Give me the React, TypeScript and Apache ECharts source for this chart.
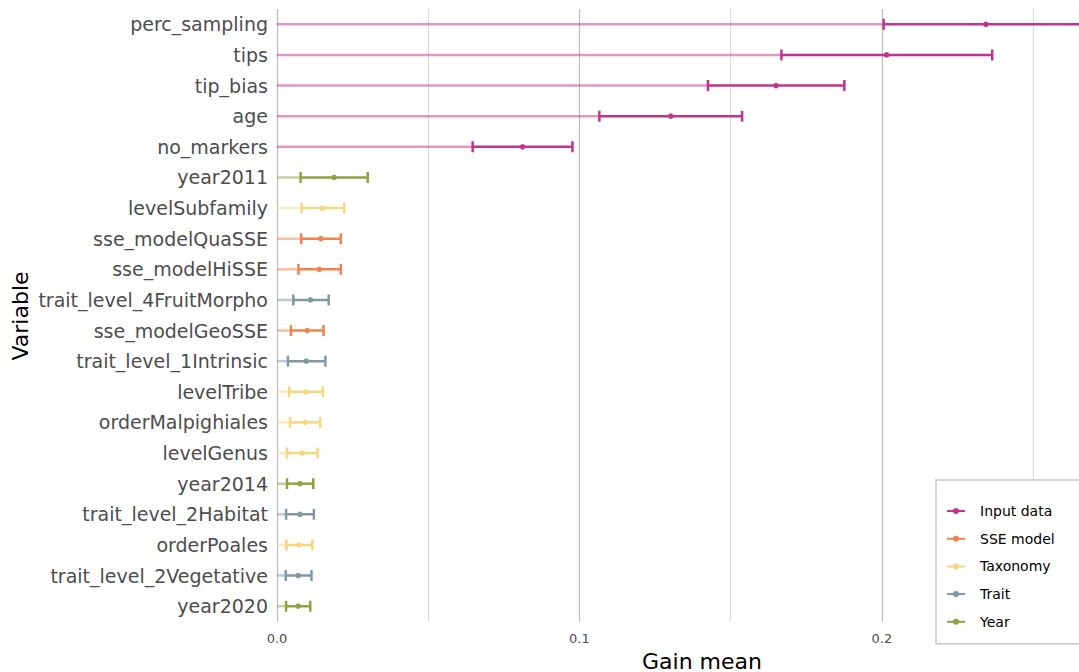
import React, { useEffect, useRef } from 'react';
import * as echarts from 'echarts';

const categories = [
  'perc_sampling', 'tips', 'tip_bias', 'age', 'no_markers', 'year2011', 'levelSubfamily',
  'sse_modelQuaSSE', 'sse_modelHiSSE', 'trait_level_4FruitMorpho', 'sse_modelGeoSSE',
  'trait_level_1Intrinsic', 'levelTribe', 'orderMalpighiales', 'levelGenus', 'year2014',
  'trait_level_2Habitat', 'orderPoales', 'trait_level_2Vegetative', 'year2020',
];
const groupOf = [
  'Input data', 'Input data', 'Input data', 'Input data', 'Input data', 'Year', 'Taxonomy',
  'SSE model', 'SSE model', 'Trait', 'SSE model', 'Trait', 'Taxonomy', 'Taxonomy', 'Taxonomy',
  'Year', 'Trait', 'Taxonomy', 'Trait', 'Year',
];
const gainMean = [
  0.2344, 0.2016, 0.165, 0.1302, 0.0812, 0.0189, 0.015, 0.0145, 0.014, 0.0111, 0.01,
  0.0097, 0.0095, 0.0093, 0.0083, 0.0076, 0.0076, 0.0073, 0.007, 0.007,
];
const gainLow = [
  0.2006, 0.1668, 0.1425, 0.1066, 0.0647, 0.0078, 0.0081, 0.008, 0.0071, 0.0054, 0.0046,
  0.0036, 0.004, 0.0043, 0.0033, 0.0033, 0.003, 0.0031, 0.0029, 0.003,
];
const gainHigh = [
  0.27, 0.2365, 0.1876, 0.1538, 0.0977, 0.03, 0.0222, 0.0211, 0.0211, 0.0171, 0.0154,
  0.016, 0.0152, 0.0143, 0.0134, 0.012, 0.0122, 0.0117, 0.0114, 0.011,
];
const groups = ['Input data', 'SSE model', 'Taxonomy', 'Trait', 'Year'];
const groupColors = ['#C2338F', '#EE8250', '#F4D77E', '#8198A4', '#8FA340'];
const xTickLabels = ['0.0', '0.1', '0.2'];

const FONT = 'DejaVu Sans';
const LEGEND_ICON =
  'path://M0,2.5H18V4.5H0Z M6,3.5A3,3 0 1 1 12,3.5A3,3 0 1 1 6,3.5Z';

export default function App() {
  const ref = useRef<HTMLDivElement>(null);

  useEffect(() => {
    if (!ref.current) return;
    const chart = echarts.init(ref.current, null, { renderer: 'svg' });

    const series = groups.map((g, gi) => {
      const color = groupColors[gi];
      const data: number[][] = [];
      categories.forEach((_, i) => {
        if (groupOf[i] === g) data.push([gainLow[i], gainMean[i], gainHigh[i], i]);
      });
      return {
        type: 'custom',
        name: g,
        clip: true,
        itemStyle: { color },
        encode: { x: [0, 1, 2], y: 3 },
        data,
        renderItem: (params: any, api: any) => {
          const yi = api.value(3);
          const z = api.coord([0, yi]);
          const lo = api.coord([api.value(0), yi]);
          const mid = api.coord([api.value(1), yi]);
          const hi = api.coord([api.value(2), yi]);
          const cap = 5.5;
          const lw = 2.5;
          return {
            type: 'group',
            children: [
              {
                type: 'line',
                shape: { x1: z[0], y1: z[1], x2: lo[0], y2: lo[1] },
                style: { stroke: color, lineWidth: lw, opacity: 0.5 },
              },
              {
                type: 'line',
                shape: { x1: lo[0], y1: lo[1], x2: hi[0], y2: hi[1] },
                style: { stroke: color, lineWidth: lw },
              },
              {
                type: 'line',
                shape: { x1: lo[0], y1: lo[1] - cap, x2: lo[0], y2: lo[1] + cap },
                style: { stroke: color, lineWidth: lw },
              },
              {
                type: 'line',
                shape: { x1: hi[0], y1: hi[1] - cap, x2: hi[0], y2: hi[1] + cap },
                style: { stroke: color, lineWidth: lw },
              },
              {
                type: 'circle',
                shape: { cx: mid[0], cy: mid[1], r: 2.8 },
                style: { fill: color },
              },
            ],
          };
        },
      };
    });

    chart.setOption({
      animation: false,
      backgroundColor: '#ffffff',
      textStyle: { fontFamily: FONT },
      grid: { left: 277, right: 0, top: 9, bottom: 50.5, containLabel: false },
      xAxis: {
        type: 'value',
        min: 0,
        max: 0.2652,
        interval: 0.05,
        axisLine: { show: false },
        axisTick: { show: false },
        axisLabel: {
          color: '#4D4D4D',
          fontSize: 13,
          fontFamily: FONT,
          margin: 10,
          showMaxLabel: false,
          formatter: (v: number) => {
            const k = Math.round(v * 10);
            if (Math.abs(v * 10 - k) < 1e-6 && k < xTickLabels.length) return xTickLabels[k];
            return '';
          },
        },
        splitLine: {
          show: true,
          lineStyle: { color: ['#BDBDBD', '#DCDCDC'], width: 1.2 },
        },
      },
      yAxis: {
        type: 'category',
        data: categories,
        inverse: true,
        axisLine: { show: false },
        axisTick: { show: false },
        splitLine: { show: false },
        axisLabel: {
          color: '#4D4D4D',
          fontSize: 19,
          fontFamily: FONT,
          margin: 9,
        },
      },
      legend: {
        orient: 'vertical',
        left: 936,
        top: 480,
        padding: [23, 25, 14, 11],
        borderColor: '#C8C8C8',
        borderWidth: 1.5,
        backgroundColor: '#ffffff',
        itemWidth: 18,
        itemHeight: 8,
        itemGap: 11.7,
        data: groups.map((g) => ({ name: g, icon: LEGEND_ICON })),
        textStyle: {
          color: '#000000',
          fontSize: 14,
          fontFamily: FONT,
          lineHeight: 16,
          padding: [0, 0, 0, 10],
        },
      },
      graphic: [
        {
          type: 'text',
          x: 702,
          y: 661,
          style: {
            text: 'Gain mean',
            fontSize: 22,
            fontFamily: FONT,
            fill: '#000000',
            align: 'center',
            verticalAlign: 'middle',
          },
        },
        {
          type: 'text',
          x: 20,
          y: 316,
          rotation: Math.PI / 2,
          style: {
            text: 'Variable',
            fontSize: 22,
            fontFamily: FONT,
            fill: '#000000',
            align: 'center',
            verticalAlign: 'middle',
          },
        },
      ],
      series,
    });

    return () => chart.dispose();
  }, []);

  return (
    <div
      ref={ref}
      style={{ position: 'fixed', left: 0, top: 0, width: 1079, height: 672 }}
    />
  );
}
